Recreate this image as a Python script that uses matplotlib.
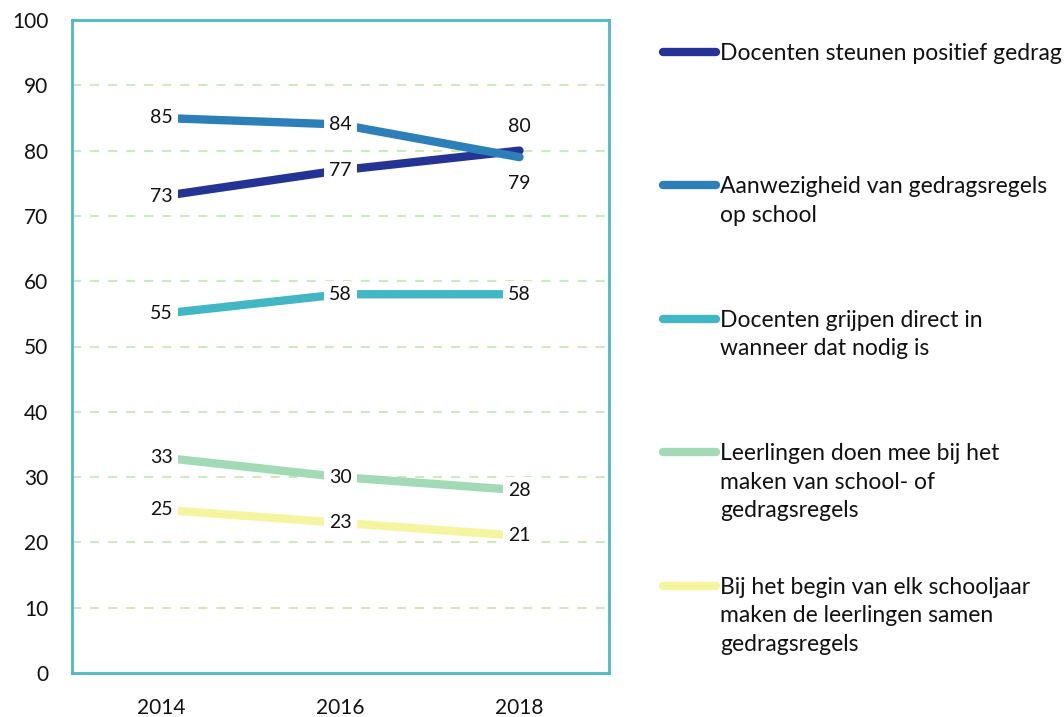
import matplotlib
matplotlib.use("Agg")
import matplotlib.pyplot as plt

plt.rcParams['font.family'] = ['Lato', 'DejaVu Sans']

years = ["2014", "2016", "2018"]
series_names = [
    "Docenten steunen positief gedrag",
    "Aanwezigheid van gedragsregels\nop school",
    "Docenten grijpen direct in\nwanneer dat nodig is",
    "Leerlingen doen mee bij het\nmaken van school- of\ngedragsregels",
    "Bij het begin van elk schooljaar\nmaken de leerlingen samen\ngedragsregels",
]
docenten_steunen = [73, 77, 80]
aanwezigheid_regels = [85, 84, 79]
docenten_grijpen_in = [55, 58, 58]
leerlingen_doen_mee = [33, 30, 28]
begin_schooljaar = [25, 23, 21]
series_values = [docenten_steunen, aanwezigheid_regels, docenten_grijpen_in,
                 leerlingen_doen_mee, begin_schooljaar]
colors = ["#253494", "#2c7fb8", "#41b6c4", "#a1dab4", "#f5f5a0"]
y_ticks = list(range(0, 101, 10))

# label vertical offsets in points (style only)
label_offsets = [[0, 0, 17], [0, 0, -19], [0, 0, 0], [0, 0, 0], [0, 0, 0]]

fig = plt.figure(figsize=(10.64, 7.17), dpi=100)
ax = fig.add_axes([72/1064, 44/717, 537/1064, 653/717])

x = list(range(len(years)))
handles = []
for i, (vals, c) in enumerate(zip(series_values, colors)):
    ln, = ax.plot(x, vals, color=c, lw=6, solid_capstyle='round', zorder=3)
    handles.append(ln)
    for j, v in enumerate(vals):
        ax.annotate(str(v), (x[j], v), xytext=(0, label_offsets[i][j]),
                    textcoords='offset points', ha='center', va='center',
                    fontsize=14, color='#111111', zorder=5,
                    bbox=dict(boxstyle='square,pad=0.25', fc='white', ec='none'))

ax.set_xlim(-0.5, 2.5)
ax.set_ylim(0, 100)
ax.set_xticks(x)
ax.set_xticklabels(years)
ax.set_yticks(y_ticks)
ax.tick_params(axis='both', length=0, labelsize=15, colors='#111111')
ax.tick_params(axis='y', pad=17)
ax.tick_params(axis='x', pad=18)
for t in y_ticks[1:-1]:
    ax.axhline(t, color='#c6e9b4', lw=1.3, ls=(0, (5, 5)), zorder=1)
for s in ax.spines.values():
    s.set_color('#4db8c6')
    s.set_linewidth(2)

padded = [n + "\n" * (2 - n.count("\n")) for n in series_names]
leg = fig.legend(handles, padded, loc='upper left',
                 bbox_to_anchor=(663/1064, 1 - 43/717), frameon=False,
                 fontsize=16.5, handlelength=2.3, handletextpad=0.2,
                 labelspacing=2.42, borderpad=0, borderaxespad=0,
                 handleheight=1.0)
for col in leg._legend_handle_box.get_children():
    for item in col.get_children():
        item.align = "top"
for t in leg.get_texts():
    t.set_linespacing(1.44)
    t.set_color('#111111')

fig.savefig("out.png", dpi=100)
